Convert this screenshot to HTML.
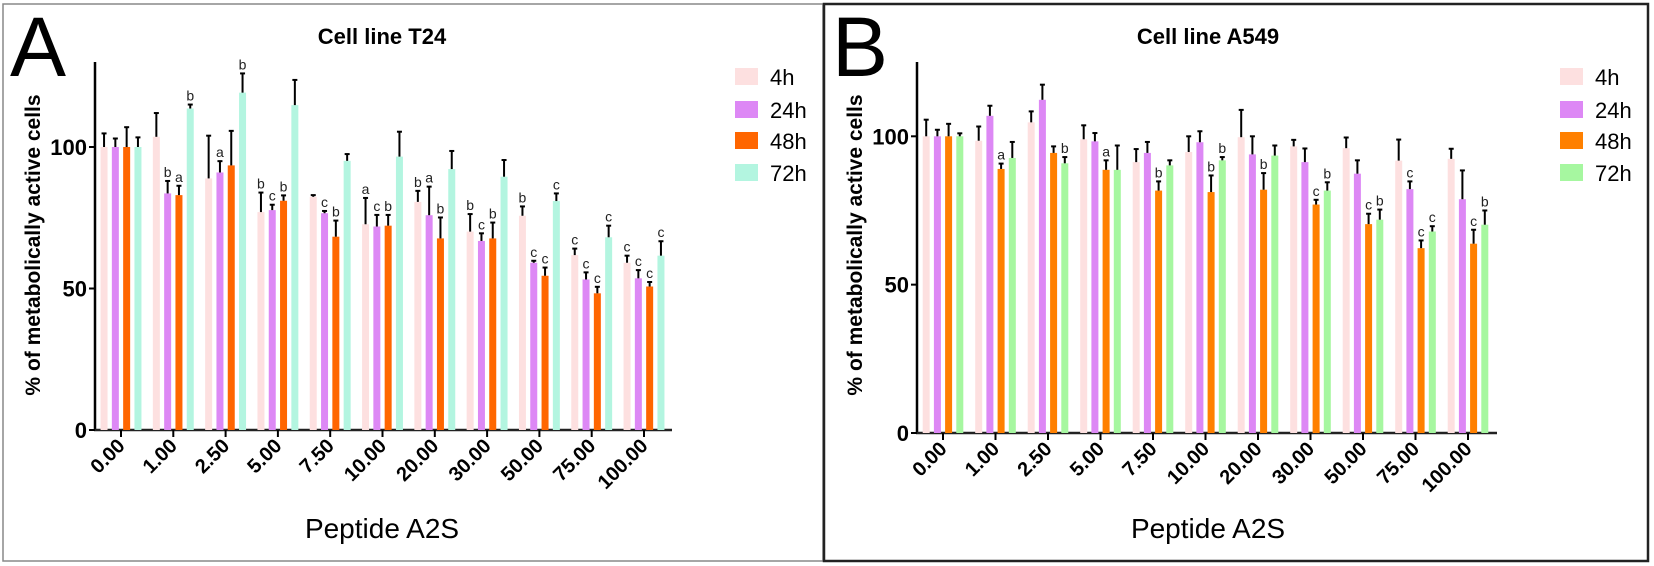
<!DOCTYPE html>
<html><head><meta charset="utf-8"><style>
html,body{margin:0;padding:0;background:#fff;}
svg{display:block;font-family:"Liberation Sans",Arial,sans-serif;}
</style></head><body>
<svg id="fig" width="1654" height="566" viewBox="0 0 1654 566" xmlns="http://www.w3.org/2000/svg">
<rect x="3" y="4" width="820" height="557" fill="none" stroke="#888" stroke-width="1.5"/>
<rect x="824" y="4" width="824" height="557" fill="none" stroke="#222" stroke-width="2.5"/>
<text x="10" y="76" font-size="84">A</text>
<text x="832" y="76" font-size="84">B</text>
<text x="382" y="44" font-size="22" font-weight="bold" text-anchor="middle">Cell line T24</text>
<text x="1208" y="44" font-size="22" font-weight="bold" text-anchor="middle">Cell line A549</text>
<text x="382" y="538" font-size="28" text-anchor="middle">Peptide A2S</text>
<text x="1208" y="538" font-size="28" text-anchor="middle">Peptide A2S</text>
<text transform="translate(40,245) rotate(-90)" font-size="21" font-weight="bold" text-anchor="middle">% of metabolically active cells</text>
<text transform="translate(862,245) rotate(-90)" font-size="21" font-weight="bold" text-anchor="middle">% of metabolically active cells</text>
</svg>
<script>
const categories = ["0.00","1.00","2.50","5.00","7.50","10.00","20.00","30.00","50.00","75.00","100.00"];
const seriesNames = ["4h","24h","48h","72h"];
const yTicks = [0,50,100];
// Panel A (T24)
const a4h  = [100,103.6,88.9,77,82.4,72.7,80.6,70.1,75.7,61.8,59.1];
const a24h = [100,83.6,91,77.7,76.6,71.9,75.9,66.8,59.1,53.2,53.6];
const a48h = [100,83,93.5,81,68.3,72.2,67.7,67.7,54.5,48.3,50.7];
const a72h = [100,113.6,119.2,114.8,95.1,96.6,92.2,89.5,80.9,68.1,61.6];
const a4hErr  = [4.8,8.4,15.1,6.9,0.6,9.3,3.9,6.2,3.3,2.3,2.5];
const a24hErr = [3,4.4,4,1.9,0.8,4.1,10.1,2.7,0.7,2.5,2.9];
const a48hErr = [7,3.3,12.2,1.9,5.7,3.8,7.4,5.6,2.9,2.3,1.6];
const a72hErr = [3.4,1.4,6.8,8.9,2.4,8.8,6.4,5.9,2.7,4.1,5.1];
const aLetters = [["","","",""],["","b","a","b"],["","a","","b"],["b","c","b",""],["","c","b",""],["a","c","b",""],["b","a","b",""],["b","c","b",""],["b","c","c","c"],["c","c","c","c"],["c","c","c","c"]];
// Panel B (A549)
const b4h  = [100,98.5,104.7,99,91.3,94.7,99.7,96.6,96,91.8,92.4];
const b24h = [100,106.9,112.3,98.3,94.4,98,93.9,91.3,87.4,82.2,78.8];
const b48h = [100,89,94.4,88.7,81.7,81.2,82,77,70.4,62.3,63.8];
const b72h = [100,92.7,90.9,88.7,90.2,91.9,93.5,81.7,71.9,67.9,70.2];
const b4hErr  = [5.6,4.8,3.7,4.7,4.4,5.3,9.2,2.2,3.6,7.1,3.4];
const b24hErr = [2.2,3.4,5.1,2.8,3.7,3.7,6.1,4.6,4.5,2.6,9.7];
const b48hErr = [4.2,1.8,2.2,3.2,3.1,5.6,5.6,1.6,3.5,2.6,4.7];
const b72hErr = [1,5.4,2.1,8.2,1.7,1.1,3.4,2.8,3.4,1.8,4.8];
const bLetters = [["","","",""],["","","a",""],["","","","b"],["","","a",""],["","","b",""],["","","b","b"],["","","b",""],["","","c","b"],["","","c","b"],["","c","c","c"],["","","c","b"]];

const NS="http://www.w3.org/2000/svg";
const svg=document.getElementById('fig');
function mk(tag,attrs){const e=document.createElementNS(NS,tag);for(const k in attrs)e.setAttribute(k,attrs[k]);svg.appendChild(e);return e;}

function drawPanel(p){
  const yS=v=>p.y0-(v)*p.ppu;
  const gx=i=>p.g0+i*p.gStep;
  let e=mk('line',{x1:p.ax,y1:62,x2:p.ax,y2:p.y0+1,stroke:'#000','stroke-width':2.5});
  
  
  e=mk('line',{x1:p.ax-1,y1:p.y0,x2:p.axEnd,y2:p.y0,stroke:'#222','stroke-width':2.5});
  
  
  yTicks.forEach(t=>{
    const y=yS(t);
    let l=mk('line',{x1:p.ax-6,y1:y,x2:p.ax,y2:y,stroke:'#000','stroke-width':2});
    
    
    let tx=mk('text',{x:p.ax-8,y:y+8,'font-size':22,'font-weight':'bold','text-anchor':'end'});
    tx.textContent=t;
    
    
  });
  categories.forEach((c,i)=>{
    const cx=gx(i);
    let l=mk('line',{x1:cx,y1:p.y0,x2:cx,y2:p.y0+7,stroke:'#000','stroke-width':2});
    
    
    let tx=mk('text',{transform:`translate(${cx+5},${p.y0+17}) rotate(-45)`,'font-size':20,'font-weight':'bold','text-anchor':'end'});
    tx.textContent=c;
    
    
    for(let s=0;s<4;s++){
      const v=p.vals[s][i], er=p.errs[s][i];
      const bx=cx+(s-1.5)*p.pitch;
      let r=mk('rect',{x:bx-p.bw/2,y:yS(v),width:p.bw,height:p.y0-yS(v),fill:p.colors[s]});
      
      
      const top=yS(v+er);
      let el=mk('line',{x1:bx,y1:yS(v),x2:bx,y2:top,stroke:'#000','stroke-width':2});
      
      
      let cap=mk('line',{x1:bx-2.5,y1:top,x2:bx+2.5,y2:top,stroke:'#000','stroke-width':2});
      
      
      const L=p.letters[i][s];
      if(L){
        let lt=mk('text',{x:bx,y:top-4,'font-size':14,'text-anchor':'middle',fill:'#222'});
        lt.textContent=L;
        
        
      }
    }
  });
  const ly=[77,110,141,173];
  seriesNames.forEach((n,s)=>{
    let r=mk('rect',{x:p.legX,y:ly[s]-9,width:23,height:17,fill:p.colors[s]});
    
    
    let t=mk('text',{x:p.legX+35,y:ly[s]+8,'font-size':22});
    t.textContent=n;
    
    
  });
}
drawPanel({id:'panel-a',ax:95,axEnd:672,y0:430,ppu:2.83,g0:121,gStep:52.3,pitch:11.3,bw:7,
  vals:[a4h,a24h,a48h,a72h],errs:[a4hErr,a24hErr,a48hErr,a72hErr],letters:aLetters,
  colors:['#fde0e0','#dd88f5','#ff6600','#b3f5e0'],legX:735});
drawPanel({id:'panel-b',ax:917,axEnd:1497,y0:433,ppu:2.967,g0:943,gStep:52.5,pitch:11.2,bw:7,
  vals:[b4h,b24h,b48h,b72h],errs:[b4hErr,b24hErr,b48hErr,b72hErr],letters:bLetters,
  colors:['#fde0e0','#dd88f5','#ff8000','#a6f7a0'],legX:1560});
</script>
</body></html>
